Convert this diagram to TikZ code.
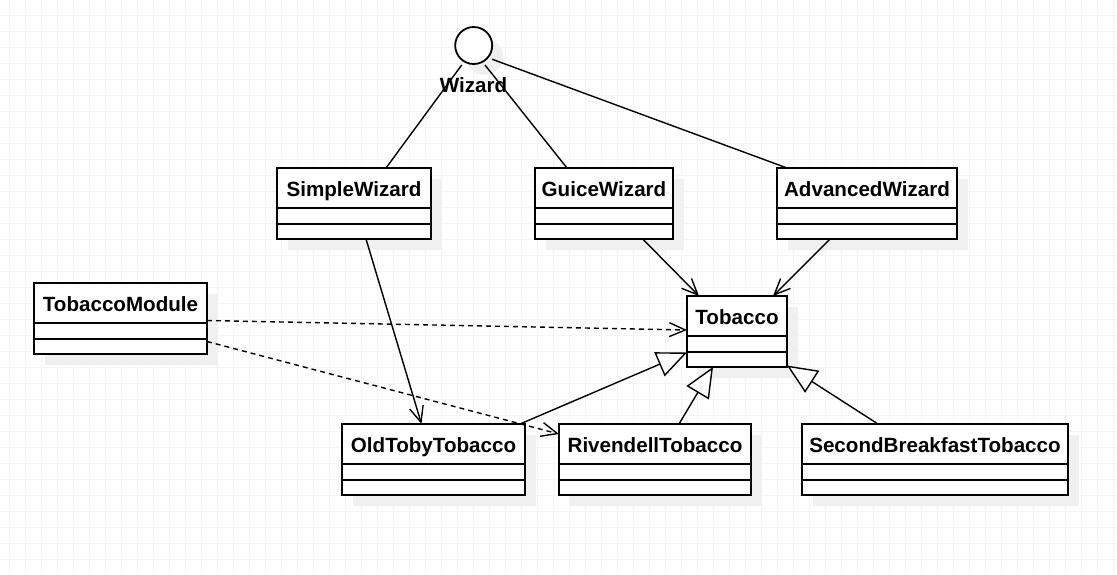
\documentclass[tikz,border=0pt]{standalone}
\usepackage{fontspec}
\setmainfont{Liberation Sans}
\usetikzlibrary{arrows.meta,shadows}
\tikzset{
  gridline/.style={draw=black!4, line width=0.8pt},
  shadowed/.style={drop shadow={shadow xshift=11pt, shadow yshift=-11pt, fill=black!6, opacity=1}},
  umlbox/.style={draw, line width=1.8pt, fill=white, minimum height=71pt, inner sep=0pt, outer sep=0pt, shadowed},
  divider/.style={line width=1.4pt},
  clsname/.style={font=\bfseries\fontsize{20.6}{24}\selectfont, inner sep=0pt},
  assoc/.style={line width=1.4pt},
  navig/.style={line width=1.4pt, -{Straight Barb[length=16pt,width=14pt]}},
  depend/.style={line width=1.4pt, dash pattern=on 5pt off 4pt, -{Straight Barb[length=16pt,width=14pt]}},
  inherit/.style={line width=1.4pt, -{Triangle[open, length=30pt, width=26pt, fill=white]}},
}
\newcommand\umlclass[5]{%
  \node[umlbox, minimum width=#4pt, anchor=north] (#1) at (#2,#3) {};
  \draw[divider] ([yshift=-40pt]#1.north west) -- ([yshift=-40pt]#1.north east);
  \draw[divider] ([yshift=-56pt]#1.north west) -- ([yshift=-56pt]#1.north east);
  \node[clsname, anchor=base] (#1-name) at ([yshift=-28pt]#1.north) {#5};
}
\begin{document}
\begin{tikzpicture}[x=1pt, y=-1pt]
\fill[white] (0,0) rectangle (1117,574);
\useasboundingbox (0,0) rectangle (1117,574);
\foreach \i in {0,...,69} \draw[gridline] ({9.3+16*\i},0) -- ({9.3+16*\i},574);
\foreach \j in {0,...,35} \draw[gridline] (0,{15.3+16*\j}) -- (1117,{15.3+16*\j});

% interface
\node[circle, draw, line width=1.8pt, fill=white, minimum size=37pt, inner sep=0pt, outer sep=0pt, shadowed] (wiz) at (473.7,45.5) {};
\node[clsname, anchor=base] (wizlabel) at (473.5,92) {Wizard};

% classes
\umlclass{sw}{354}{168}{154}{SimpleWizard}
\umlclass{gw}{604}{168}{138}{GuiceWizard}
\umlclass{aw}{867}{168}{180}{AdvancedWizard}
\umlclass{tm}{120.5}{283}{173}{TobaccoModule}
\umlclass{tb}{737}{296}{100}{Tobacco}
\umlclass{ot}{433.5}{424}{183}{OldTobyTobacco}
\umlclass{rt}{655}{424}{192}{RivendellTobacco}
\umlclass{sb}{935}{424}{266}{SecondBreakfastTobacco}

% interface links
\draw[assoc] ([shift={(-12pt,-19.5pt)}]wiz.center) -- ([xshift=32pt]sw.north);
\draw[assoc] ([shift={(11.3pt,-19.5pt)}]wiz.center) -- ([xshift=-37pt]gw.north);
\draw[assoc] ([shift={(18.6pt,-13.8pt)}]wiz.center) -- ([xshift=-80pt]aw.north);

% navigable associations
\draw[navig] ([xshift=12pt]sw.south) -- ([xshift=-12pt]ot.north);
\draw[navig] ([xshift=38.7pt]gw.south) -- ([xshift=-38pt]tb.north);
\draw[navig] ([xshift=-37pt]aw.south) -- ([xshift=36pt]tb.north);

% dependencies
\draw[depend] ([yshift=-2pt]tm.east) -- ([yshift=1.5pt]tb.west);
\draw[depend] ([yshift=-23pt]tm.east) -- ([yshift=-10pt]rt.north west);

% generalizations
\draw[inherit] ([xshift=-5pt]ot.north east) -- ([yshift=14.5pt]tb.south west);
\draw[inherit] ([xshift=24pt]rt.north) -- ([xshift=-24pt]tb.south);
\draw[inherit] ([xshift=-57pt]sb.north) -- ([yshift=1.5pt]tb.south east);
\end{tikzpicture}
\end{document}
